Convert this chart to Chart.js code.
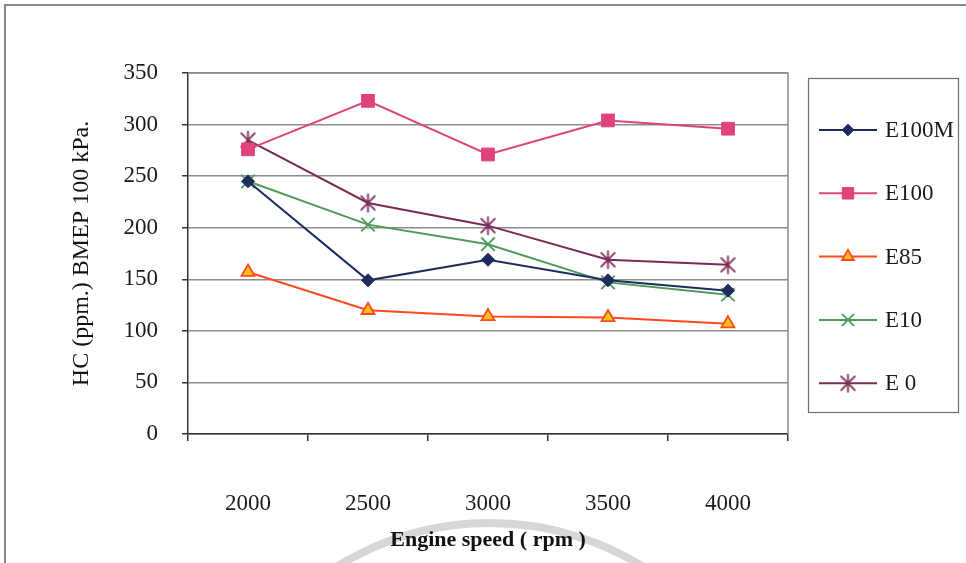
<!DOCTYPE html>
<html>
<head>
<meta charset="utf-8">
<script src="https://cdn.jsdelivr.net/npm/chart.js@4/dist/chart.umd.min.js"></script>
<style>
  html, body { margin: 0; padding: 0; background: #fff; }
  #wrap { width: 966px; height: 563px; }
</style>
</head>
<body>
<div id="wrap"><canvas id="c" width="966" height="563"></canvas></div>
<script>
// Engine speeds (rpm)
const speeds = ['2000', '2500', '3000', '3500', '4000'];

// HC emissions (ppm) at BMEP 100 kPa for each fuel
const e100m = [245, 149, 169, 149, 139];
const e100  = [276, 323, 271, 304, 296];
const e85   = [157, 120, 114, 113, 107];
const e10   = [245, 203, 184, 147, 135];
const e0    = [285, 224, 202, 169, 164];

const yTicks = [0, 50, 100, 150, 200, 250, 300, 350];

const SERIF = '"Liberation Serif", "Times New Roman", serif';

// Asterisk marker: an X with a vertical bar
function asteriskMarker(color, r) {
  const s = r * 2 + 4;
  const cv = document.createElement('canvas');
  cv.width = s; cv.height = s;
  const g = cv.getContext('2d');
  g.strokeStyle = color; g.lineWidth = 1.8; g.lineCap = 'round';
  const c = s / 2, d = r * 0.8;
  g.beginPath();
  g.moveTo(c - d, c - d); g.lineTo(c + d, c + d);
  g.moveTo(c + d, c - d); g.lineTo(c - d, c + d);
  g.moveTo(c, c - r); g.lineTo(c, c + r);
  g.stroke();
  return cv;
}

const datasets = [
  { label: 'E100M', data: e100m, borderColor: '#1e2d5f', backgroundColor: '#1e2d5f',
    pointStyle: 'rectRot', pointRadius: 6.5, pointBorderWidth: 1 },
  { label: 'E100', data: e100, borderColor: '#e0427c', backgroundColor: '#e0427c',
    pointStyle: 'rect', pointRadius: 9, pointBorderWidth: 1 },
  { label: 'E85', data: e85, borderColor: '#ff4a1c', backgroundColor: '#ffc21a',
    pointStyle: 'triangle', pointRadius: 7.5, pointBorderWidth: 1.8 },
  { label: 'E10', data: e10, borderColor: '#4e9a5c', backgroundColor: '#4e9a5c',
    pointStyle: 'crossRot', pointRadius: 9.5, pointBorderWidth: 1.8 },
  { label: 'E 0', data: e0, borderColor: '#7a2b55', backgroundColor: '#7a2b55',
    pointStyle: asteriskMarker('#7a2b55', 8.5), pointRadius: 8.5, pointBorderWidth: 1.8 }
].map(d => Object.assign({ borderWidth: 2, tension: 0, fill: false }, d));

// Page frame, faint watermark arc, plot frame and boxed legend
const decor = {
  id: 'decor',
  beforeDraw(chart) {
    const ctx = chart.ctx;
    ctx.save();
    ctx.fillStyle = '#fff';
    ctx.fillRect(0, 0, chart.width, chart.height);
    ctx.strokeStyle = '#8a8a8a';
    ctx.lineWidth = 2;
    ctx.beginPath();
    ctx.moveTo(5, chart.height); ctx.lineTo(5, 5); ctx.lineTo(chart.width, 5);
    ctx.stroke();
    ctx.strokeStyle = 'rgba(200,200,200,0.75)';
    ctx.lineWidth = 8;
    ctx.beginPath();
    ctx.arc(490, 813, 290, Math.PI * 1.1, Math.PI * 1.9);
    ctx.stroke();
    ctx.restore();
  },
  beforeDatasetsDraw(chart) {
    const a = chart.chartArea, ctx = chart.ctx;
    ctx.save();
    ctx.strokeStyle = '#8c8c8c';
    ctx.lineWidth = 1.5;
    ctx.beginPath();
    ctx.moveTo(a.left, a.top); ctx.lineTo(a.right, a.top); ctx.lineTo(a.right, a.bottom);
    ctx.stroke();
    ctx.restore();
  },
  afterDraw(chart) {
    const ctx = chart.ctx;
    ctx.save();
    ctx.strokeStyle = '#6e6e6e';
    ctx.lineWidth = 1.2;
    ctx.strokeRect(808.5, 78.5, 150, 334);
    ctx.font = '23px ' + SERIF;
    ctx.textBaseline = 'middle';
    chart.data.datasets.forEach((ds, i) => {
      const y = 130 + i * 63.3;
      ctx.strokeStyle = ds.borderColor;
      ctx.lineWidth = 2;
      ctx.beginPath();
      ctx.moveTo(819, y); ctx.lineTo(877, y);
      ctx.stroke();
      ctx.fillStyle = ds.backgroundColor;
      ctx.strokeStyle = ds.borderColor;
      ctx.lineWidth = ds.pointBorderWidth;
      Chart.helpers.drawPoint(ctx, { pointStyle: ds.pointStyle, radius: ds.pointRadius * 0.9, rotation: 0, borderWidth: ds.pointBorderWidth }, 848, y);
      ctx.fillStyle = '#1a1a1a';
      ctx.fillText(ds.label, 885, y + 1);
    });
    ctx.restore();
  }
};

new Chart(document.getElementById('c'), {
  type: 'line',
  data: { labels: speeds, datasets },
  plugins: [decor],
  options: {
    responsive: false,
    animation: false,
    events: [],
    layout: { padding: { left: 67, right: 178, top: 73, bottom: 9 } },
    plugins: { legend: { display: false }, tooltip: { enabled: false } },
    scales: {
      x: {
        type: 'category',
        offset: true,
        afterFit: s => { s.height = 120; },
        grid: { offset: true, drawOnChartArea: false, tickLength: 7, color: '#333', lineWidth: 1.5 },
        border: { color: '#333', width: 1.5 },
        ticks: { padding: 49, color: '#1a1a1a', maxRotation: 0, font: { family: SERIF, size: 23 } },
        title: { display: true, text: 'Engine speed ( rpm )', color: '#111', padding: 0,
                 font: { family: SERIF, size: 22, weight: 'bold' } }
      },
      y: {
        min: 0, max: 350,
        afterFit: s => { s.width = 121; },
        afterBuildTicks: s => { s.ticks = yTicks.map(v => ({ value: v })); },
        grid: { color: '#8c8c8c', lineWidth: 1.5, tickLength: 6, tickColor: '#333' },
        border: { color: '#333', width: 1.5 },
        ticks: { padding: 24, color: '#1a1a1a', font: { family: SERIF, size: 23 } },
        title: { display: true, text: 'HC (ppm.) BMEP 100 kPa.', color: '#111', padding: 0,
                 font: { family: SERIF, size: 24 } }
      }
    }
  }
});
</script>
</body>
</html>
